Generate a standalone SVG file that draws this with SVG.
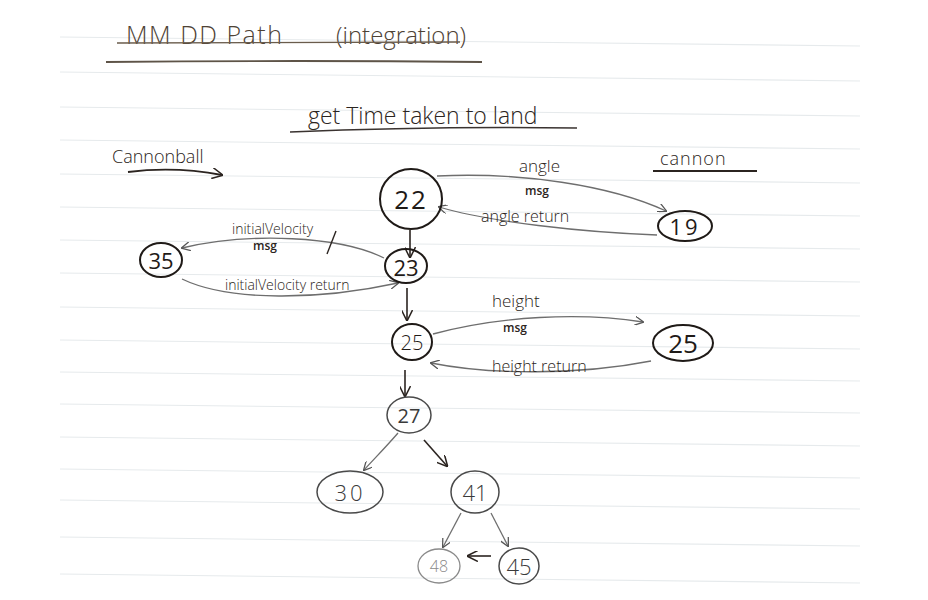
<svg xmlns="http://www.w3.org/2000/svg" width="928" height="600" viewBox="0 0 928 600">
<defs>
<style>
.rule{stroke:#e6eaec;stroke-width:1.1;fill:none}
.ink{fill:#2b2420;font-family:"Open Sans","DejaVu Sans",sans-serif}
.title{fill:#4e4235;font-family:"Open Sans","DejaVu Sans",sans-serif;font-weight:300}
.node ellipse{fill:none;stroke:#1f1a17;stroke-width:2}
.node text{font-family:"Open Sans","DejaVu Sans",sans-serif;fill:#1f1a17;text-anchor:middle;dominant-baseline:central}
.light ellipse{stroke:#4a4a4a;stroke-width:1.5}
.light text{fill:#3a3a3a}
.faint ellipse{stroke:#8a8a8a;stroke-width:1.3}
.faint text{fill:#8a8a8a}
.edge{fill:none;stroke:#6e6e6e;stroke-width:1.3}
.dark{stroke:#2b2420;stroke-width:1.6}
.lbl{font-family:"Open Sans","DejaVu Sans",sans-serif;fill:#2b2420;font-weight:300}
.msg{font-family:"Open Sans","DejaVu Sans",sans-serif;fill:#2b2420;font-weight:600;font-size:12px}
</style>
<marker id="ah" viewBox="0 0 10 10" refX="9" refY="5" markerWidth="9" markerHeight="9" orient="auto" markerUnits="userSpaceOnUse">
<path d="M0,0 L10,5 L0,10" fill="none" stroke="#555" stroke-width="1.4"/>
</marker>
<marker id="ahd" viewBox="0 0 10 10" refX="9" refY="5" markerWidth="11" markerHeight="11" orient="auto" markerUnits="userSpaceOnUse">
<path d="M0,0 L10,5 L0,10" fill="none" stroke="#2b2420" stroke-width="1.4"/>
</marker>
</defs>
<rect width="928" height="600" fill="#ffffff"/>
<g id="paper-rules">
<path class="rule" d="M60,37 L860,46"/>
<path class="rule" d="M60,72 L860,81"/>
<path class="rule" d="M60,107 L860,116"/>
<path class="rule" d="M60,140 L860,149"/>
<path class="rule" d="M60,174 L860,183"/>
<path class="rule" d="M60,207 L860,216"/>
<path class="rule" d="M60,240 L860,249"/>
<path class="rule" d="M60,273 L860,282"/>
<path class="rule" d="M60,307 L860,316"/>
<path class="rule" d="M60,340 L860,349"/>
<path class="rule" d="M60,372 L860,381"/>
<path class="rule" d="M60,404 L860,413"/>
<path class="rule" d="M60,437 L860,446"/>
<path class="rule" d="M60,469 L860,478"/>
<path class="rule" d="M60,500 L860,509"/>
<path class="rule" d="M60,537 L860,546"/>
<path class="rule" d="M60,574 L860,583"/>
</g>
<g id="headings">
<text class="title" x="126" y="44" font-size="25" letter-spacing="1.5">MM DD Path</text>
<text class="title" x="336" y="44" font-size="24">(integration)</text>
<path d="M117,43 L460,42" stroke="#6a5c4c" stroke-width="1.3" fill="none"/>
<path d="M106,62 Q300,60 482,62" stroke="#5e5448" stroke-width="1.8" fill="none"/>
<text class="ink" x="308" y="124" font-size="23" font-weight="300">get Time taken to land</text>
<path d="M290,132 Q430,126 577,128" stroke="#3a3330" stroke-width="1.6" fill="none"/>
<text class="ink" x="112" y="163" font-size="18" font-weight="300">Cannonball</text>
<path d="M128,172 Q175,166 222,175" stroke="#2b2420" stroke-width="1.8" fill="none" marker-end="url(#ahd)"/>
<text class="ink" x="660" y="165" font-size="18" font-weight="300" letter-spacing="1">cannon</text>
<path d="M653,171 L757,171" stroke="#2b2420" stroke-width="1.8" fill="none"/>
</g>
<g id="connectors">
<path class="edge" d="M437,176 C520,172 610,185 666,211" marker-end="url(#ah)"/>
<path class="edge" d="M657,235 C580,232 490,222 439,207" marker-end="url(#ah)"/>
<path class="edge dark" d="M410,230 L410,257" marker-end="url(#ahd)"/>
<path class="edge" d="M384,258 C340,236 250,232 182,248" marker-end="url(#ah)"/>
<path class="edge" d="M182,279 C230,302 320,300 398,283" marker-end="url(#ah)"/>
<path class="edge dark" d="M407,288 L407,320" marker-end="url(#ahd)"/>
<path class="edge" d="M433,334 C500,316 580,312 643,322" marker-end="url(#ah)"/>
<path class="edge" d="M651,361 C580,375 490,375 431,363" marker-end="url(#ah)"/>
<path class="edge dark" d="M405,370 L405,396" marker-end="url(#ahd)"/>
<path class="edge" d="M398,433 C385,448 375,458 364,470" marker-end="url(#ah)"/>
<path class="edge dark" d="M424,440 L447,466" marker-end="url(#ahd)"/>
<path class="edge" d="M461,513 L443,547" marker-end="url(#ah)"/>
<path class="edge" d="M491,513 L508,546" marker-end="url(#ah)"/>
<path class="edge dark" d="M491,556 L468,556" marker-end="url(#ahd)"/>
<path d="M327,254 L336,231" stroke="#2b2420" stroke-width="1.4" fill="none"/>
</g>
<g id="edge-labels">
<text class="lbl" x="519" y="172" font-size="17">angle</text>
<text class="msg" x="525" y="195">msg</text>
<text class="lbl" x="481" y="222" font-size="16">angle return</text>
<text class="lbl" x="232" y="234" font-size="14">initialVelocity</text>
<text class="msg" x="253" y="250">msg</text>
<text class="lbl" x="225" y="290" font-size="14">initialVelocity return</text>
<text class="lbl" x="492" y="307" font-size="17">height</text>
<text class="msg" x="503" y="332">msg</text>
<text class="lbl" x="492" y="372" font-size="16">height return</text>
</g>
<g id="node-22" class="node"><ellipse cx="411" cy="199" rx="31" ry="30"/><text x="411" y="199" font-size="26" letter-spacing="2">22</text></g>
<g id="node-19" class="node"><ellipse cx="685" cy="226" rx="27" ry="15"/><text x="685" y="226" font-size="22" letter-spacing="3">19</text></g>
<g id="node-35" class="node"><ellipse cx="161" cy="260" rx="21" ry="17"/><text x="161" y="260" font-size="22">35</text></g>
<g id="node-23" class="node"><ellipse cx="406" cy="266" rx="21" ry="17"/><text x="406" y="267" font-size="22">23</text></g>
<g id="node-25a" class="node"><ellipse cx="412" cy="342" rx="20" ry="18" stroke-width="1.6"/><text x="412" y="342" font-size="20" font-weight="300">25</text></g>
<g id="node-25b" class="node"><ellipse cx="683" cy="343" rx="30" ry="18"/><text x="683" y="343" font-size="26">25</text></g>
<g id="node-27" class="node light"><ellipse cx="409" cy="415" rx="22" ry="18"/><text x="409" y="415" font-size="20">27</text></g>
<g id="node-30" class="node light"><ellipse cx="350" cy="492" rx="33" ry="21"/><text x="350" y="492" font-size="22" font-weight="300" letter-spacing="3">30</text></g>
<g id="node-41" class="node light"><ellipse cx="475" cy="492" rx="24" ry="21"/><text x="475" y="492" font-size="22" font-weight="300">41</text></g>
<g id="node-48" class="node faint"><ellipse cx="439" cy="566" rx="21" ry="17"/><text x="439" y="566" font-size="16" font-weight="300">48</text></g>
<g id="node-45" class="node light"><ellipse cx="519" cy="566" rx="20" ry="18"/><text x="519" y="566" font-size="22" font-weight="300">45</text></g>
</svg>
